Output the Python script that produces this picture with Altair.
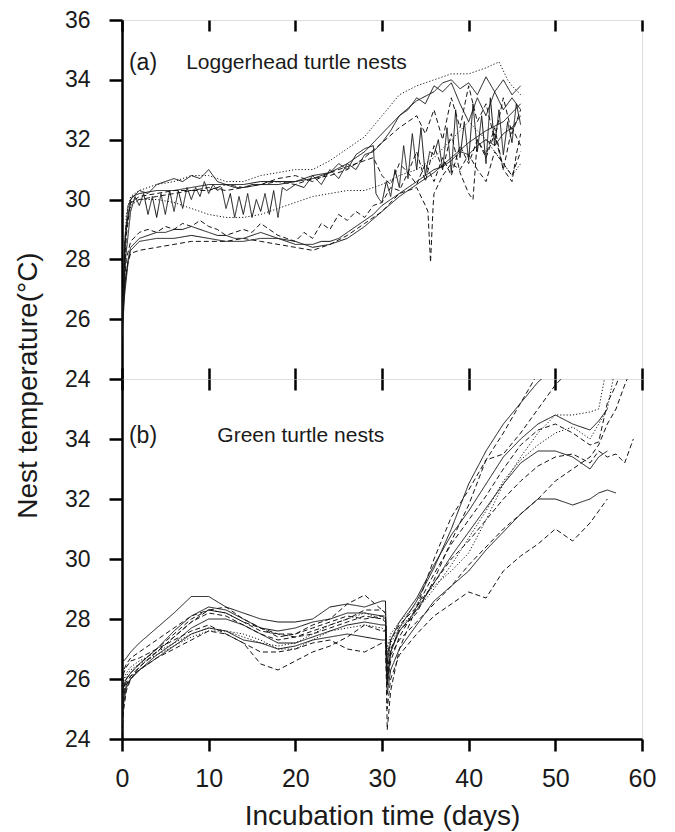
import altair as alt
import pandas as pd

FONT = "Liberation Sans"

# ---------------- Panel (a): loggerhead turtle nests (day, temperature) ----------------
A1 = [(0, 25.6), (0.3, 28.5), (0.7, 29.8), (1.2, 30.1), (2, 30.2), (4, 30.3), (6, 30.3), (8, 30.4),
      (10, 30.5), (12, 30.5), (14, 30.5), (16, 30.6), (18, 30.6), (20, 30.6), (22, 30.7), (24, 30.9),
      (26, 31.2), (28, 31.6), (30, 32.2), (32, 32.8), (34, 33.3), (36, 33.6), (37, 33.9), (38, 34.0),
      (39, 33.7), (40, 33.9), (41, 33.5), (42, 34.1), (43, 33.6), (44, 34.0), (45, 33.5), (46, 33.8)]
A2 = [(0, 26.0), (0.5, 29.5), (1, 30.1), (2, 30.3), (4, 30.5), (6, 30.6), (8, 30.8), (10, 30.8),
      (12, 30.6), (14, 30.6), (16, 30.8), (18, 30.9), (20, 31.0), (22, 31.0), (24, 31.3), (26, 31.7),
      (28, 32.1), (30, 32.8), (32, 33.5), (34, 33.8), (36, 34.0), (38, 34.2), (40, 34.2), (42, 34.4),
      (43.5, 34.6), (44.5, 34.0), (45, 33.8), (46, 33.5)]
A3 = [(0, 25.8), (0.4, 28.8), (1, 30.0), (2, 30.3), (3, 30.2), (4, 30.5), (5, 30.6), (6, 30.7),
      (7, 30.6), (8, 30.8), (9, 30.7), (10, 31.0), (11, 30.6), (12, 30.5), (13, 30.4), (14, 30.4),
      (15, 30.5), (16, 30.5), (18, 30.5), (20, 30.6), (22, 30.8), (24, 30.9), (25, 31.2), (26, 31.0),
      (27, 31.5), (28, 31.7), (29, 31.8), (29.3, 30.2), (29.7, 30.0), (30, 29.9), (30.5, 30.6),
      (31, 30.1), (31.5, 31.0), (32, 30.4), (32.5, 31.8), (33, 30.7), (33.5, 32.2), (34, 31.0),
      (34.5, 32.4), (35, 30.8), (35.5, 31.6), (36, 31.5), (36.5, 32.0), (37, 31.0), (37.5, 32.4),
      (38, 30.9), (38.5, 33.0), (39, 31.4), (39.5, 32.6), (40, 31.3), (40.5, 33.2), (41, 31.6),
      (41.5, 32.8), (42, 31.2), (42.5, 33.4), (43, 31.8), (43.5, 33.0), (44, 31.5), (44.5, 32.6),
      (45, 31.9), (45.5, 33.2), (46, 32.5)]
A4 = [(0, 25.5), (0.4, 28.0), (1, 29.6), (1.5, 30.1), (2, 29.8), (2.5, 30.2), (3, 29.5), (3.5, 30.1),
      (4, 29.4), (4.5, 30.2), (5, 29.5), (5.5, 30.3), (6, 29.6), (6.5, 30.3), (7, 29.7), (7.5, 30.4),
      (8, 30.0), (8.5, 30.4), (9, 30.1), (9.5, 30.6), (10, 30.2), (10.5, 30.5), (11, 30.3), (11.5, 30.4),
      (12, 29.7), (12.5, 30.2), (13, 29.4), (13.5, 30.1), (14, 29.5), (14.5, 30.2), (15, 29.4),
      (15.5, 30.0), (16, 29.6), (16.5, 30.2), (17, 29.5), (17.5, 30.3), (18, 29.4), (18.5, 30.4),
      (19, 30.3), (20, 30.5), (21, 30.4), (22, 30.8), (23, 30.5), (24, 31.0), (25, 30.7), (26, 31.2),
      (27, 31.0), (28, 31.5), (29, 31.6), (30, 31.9), (31, 32.3), (32, 32.8), (33, 33.0), (34, 33.4),
      (35, 33.2), (36, 33.8), (37, 33.6), (38, 33.9), (39, 33.2), (40, 32.6), (41, 33.4), (42, 32.8),
      (43, 33.6), (44, 33.0), (45, 33.4), (46, 33.0)]
A5 = [(0, 25.7), (0.3, 27.0), (0.7, 28.0), (1, 28.4), (2, 28.7), (3, 28.8), (4, 28.9), (5, 28.9),
      (6, 29.0), (7, 29.0), (8, 29.1), (9, 29.0), (10, 28.9), (11, 28.8), (12, 28.8), (13, 28.7),
      (14, 28.7), (15, 28.8), (16, 28.9), (17, 28.8), (18, 28.7), (19, 28.6), (20, 28.5), (21, 28.5),
      (22, 28.5), (23, 28.6), (24, 28.6), (25, 28.7), (26, 28.9), (27, 29.1), (28, 29.3), (29, 29.5),
      (30, 29.8), (31, 30.0), (32, 30.2), (33, 30.4), (34, 30.6), (35, 30.8), (36, 31.0), (37, 31.1),
      (38, 31.3), (39, 31.6), (40, 31.5), (41, 31.8), (42, 32.0), (43, 31.8), (44, 32.2), (45, 32.4),
      (46, 32.8)]
A6 = [(0, 25.9), (0.3, 27.2), (0.7, 27.9), (1, 28.2), (2, 28.3), (4, 28.4), (6, 28.5), (8, 28.6),
      (10, 28.6), (12, 28.6), (14, 28.7), (16, 28.6), (18, 28.5), (20, 28.4), (22, 28.3), (24, 28.5),
      (26, 28.8), (28, 29.2), (30, 29.6), (32, 30.2), (34, 30.4), (35, 29.8), (35.3, 29.6),
      (35.6, 27.9), (35.9, 29.8), (36, 30.2), (37, 30.8), (38, 31.2), (39, 31.0), (40, 31.5),
      (41, 31.0), (42, 30.6), (43, 31.6), (44, 31.2), (45, 30.8), (46, 31.6)]
A7 = [(0, 26.0), (0.5, 28.0), (1, 28.6), (2, 28.9), (3, 29.0), (4, 28.9), (5, 29.1), (6, 29.0),
      (7, 29.2), (8, 29.1), (9, 29.3), (10, 29.1), (11, 29.0), (12, 28.8), (13, 28.9), (14, 29.0),
      (15, 28.9), (16, 29.2), (17, 29.0), (18, 28.8), (19, 28.7), (20, 28.6), (21, 28.9), (22, 28.7),
      (23, 29.2), (24, 29.0), (25, 29.5), (26, 29.3), (27, 29.6), (28, 29.4), (29, 29.8), (30, 29.9),
      (31, 30.4), (32, 30.3), (33, 30.9), (34, 30.5), (35, 31.2), (36, 30.6), (37, 31.4), (38, 30.8),
      (39, 31.8), (40, 31.2), (41, 32.0), (42, 31.4), (43, 32.2), (44, 31.0), (45, 32.4), (46, 31.8)]
A8 = [(0, 26.2), (0.5, 29.0), (1, 29.8), (2, 30.0), (4, 30.0), (6, 29.9), (8, 29.7), (10, 29.5),
      (12, 29.4), (14, 29.4), (16, 29.5), (18, 29.7), (20, 29.9), (22, 30.1), (24, 30.2), (26, 30.3),
      (28, 30.3), (30, 30.5), (32, 30.8), (34, 31.0), (36, 31.4), (38, 32.0), (40, 32.6), (42, 32.0),
      (44, 31.2), (45, 30.8), (46, 31.2)]
A9 = [(0, 25.8), (0.4, 29.0), (1, 29.9), (2, 30.1), (4, 30.2), (6, 30.3), (8, 30.3), (10, 30.4),
      (12, 30.3), (14, 30.4), (16, 30.5), (18, 30.6), (20, 30.5), (22, 30.7), (24, 30.8), (26, 31.0),
      (28, 31.4), (30, 31.9), (32, 32.4), (34, 32.8), (35, 32.2), (36, 33.0), (37, 32.0), (38, 33.4),
      (39, 32.4), (40, 33.8), (41, 32.6), (42, 33.2), (43, 32.0), (44, 33.4), (45, 32.2), (46, 33.0)]
A10 = [(0, 25.6), (0.5, 28.8), (1, 29.9), (2, 30.0), (4, 30.1), (6, 30.2), (8, 30.3), (10, 30.3),
       (12, 30.5), (14, 30.4), (16, 30.5), (18, 30.7), (20, 30.8), (22, 30.6), (24, 30.9), (26, 31.1),
       (28, 31.3), (29, 31.4), (30, 30.8), (31, 30.5), (32, 31.2), (33, 30.9), (34, 31.6), (35, 30.6),
       (36, 31.8), (37, 31.0), (38, 32.2), (39, 30.9), (40, 30.2), (40.5, 30.0), (41, 32.0), (42, 31.5),
       (43, 32.4), (44, 31.0), (45, 30.6), (45.5, 31.5), (46, 32.2)]
A11 = [(0, 25.4), (0.3, 26.8), (0.7, 27.9), (1, 28.3), (2, 28.6), (4, 28.7), (6, 28.7), (8, 28.8),
       (10, 28.7), (12, 28.6), (14, 28.6), (16, 28.7), (18, 28.7), (20, 28.6), (22, 28.4), (24, 28.5),
       (26, 28.7), (28, 29.1), (30, 29.6), (32, 30.1), (34, 30.5), (36, 30.9), (38, 31.4), (40, 31.9),
       (42, 32.3), (44, 32.6), (46, 33.2)]

A_LINES = {"A1": A1, "A2": A2, "A3": A3, "A4": A4, "A5": A5, "A6": A6,
           "A7": A7, "A8": A8, "A9": A9, "A10": A10, "A11": A11}
A_STYLES = {"A1": "solid", "A2": "dotted", "A3": "solid", "A4": "solid", "A5": "solid",
            "A6": "dashed", "A7": "dashed", "A8": "dotted", "A9": "dashed", "A10": "dashed",
            "A11": "solid"}

# ---------------- Panel (b): green turtle nests (shared day grid) ----------------
B_DAYS = [0, 0.2, 0.5, 1, 2, 4, 6, 8, 10, 12,
          14, 16, 18, 20, 22, 24, 26, 28, 30, 30.4,
          30.6, 31, 32, 34, 36, 38, 40, 42, 44, 46,
          48, 50, 52, 54, 55, 56, 57, 58, 59]
N = None
G1 = [26.7, 26.6, 26.7, 26.9, 27.2, 27.7, 28.2, 28.75, 28.75, 28.4,
      28.2, 28.0, 27.9, 27.9, 28.0, 28.4, 28.5, 28.4, 28.6, 28.6,
      25.8, 26.9, 27.7, 28.6, 29.7, 31.0, 32.5, 33.6, 34.5, 35.2,
      35.9, 36.4, 37.0, N, N, N, N, N, N]
G2 = [24.2, 25.0, 25.6, 26.0, 26.4, 26.9, 27.4, 27.9, 28.3, 28.4,
      28.0, 27.7, 27.4, 27.5, 27.8, 28.0, 28.5, 28.8, 28.3, 28.2,
      24.3, 25.6, 27.0, 28.4, 30.0, 31.4, 32.3, 33.3, 34.2, 35.2,
      36.2, 37.0, N, N, N, N, N, N, N]
G3 = [25.2, 25.7, 26.0, 26.2, 26.5, 27.0, 27.5, 28.0, 28.3, 28.2,
      27.9, 27.6, 27.5, 27.5, 27.7, 27.9, 28.1, 28.0, 28.1, 28.1,
      26.2, 27.0, 27.6, 28.2, 29.3, 30.6, 31.8, 33.3, 33.5, 34.2,
      35.0, 35.8, 36.4, N, N, N, N, N, N]
G4 = [25.3, 25.8, 26.0, 26.2, 26.5, 27.0, 27.6, 28.1, 28.4, 28.3,
      28.0, 27.7, 27.6, 27.7, 27.9, 28.0, 28.2, 28.2, 28.1, 28.0,
      26.5, 27.3, 27.9, 28.7, 29.8, 30.8, 31.6, 32.5, 33.4, 34.0,
      34.5, 34.8, 34.5, 34.3, 34.6, 35.0, N, N, N]
G5 = [25.0, 25.5, 25.8, 26.1, 26.4, 26.9, 27.4, 27.9, 28.2, 28.1,
      27.8, 27.5, 27.3, 27.4, 27.6, 27.8, 28.0, 28.3, 28.3, 28.2,
      25.8, 26.6, 27.4, 28.4, 29.5, 30.5, 31.3, 32.1, 33.0, 33.8,
      34.3, 34.5, 34.2, 33.8, 33.9, 35.2, 35.8, 36.5, N]
G6 = [24.5, 25.2, 25.7, 26.0, 26.3, 26.8, 27.2, 27.7, 28.0, 28.0,
      27.8, 27.5, 27.2, 27.2, 27.4, 27.6, 27.8, 27.9, 27.8, 27.8,
      26.0, 26.9, 27.6, 28.3, 29.2, 30.1, 30.9, 31.7, 32.5, 33.2,
      33.6, 33.6, 33.4, 33.0, 33.4, 33.6, N, N, N]
G7 = [25.5, 26.0, 26.2, 26.4, 26.6, 26.9, 27.2, 27.5, 27.7, 27.6,
      27.4, 27.2, 27.1, 27.2, 27.5, 27.8, 28.0, 28.2, 28.0, 28.0,
      27.0, 27.5, 27.9, 28.5, 29.1, 29.6, 30.2, 31.3, 32.5, 33.4,
      34.2, 34.8, 34.8, 34.9, 35.0, 36.5, N, N, N]
G8 = [24.8, 25.4, 25.8, 26.0, 26.3, 26.7, 27.1, 27.5, 27.7, 27.6,
      27.3, 27.2, 27.0, 27.1, 27.3, 27.4, 27.5, 27.4, 27.3, 27.3,
      25.5, 26.3, 27.0, 27.8, 28.6, 29.1, 29.6, 30.3, 30.9, 31.5,
      32.0, 32.0, 31.8, 32.0, 32.2, 32.3, 32.2, N, N]
G9 = [25.0, 25.6, 25.9, 26.1, 26.3, 26.7, 27.0, 27.3, 27.6, 27.5,
      27.2, 26.9, 26.9, 27.0, 27.2, 27.3, 27.0, 26.9, 27.2, 27.2,
      25.0, 26.0, 26.8, 27.5, 28.1, 28.5, 28.9, 28.7, 29.6, 30.1,
      30.5, 31.0, 30.6, 31.2, 31.6, 32.0, N, N, N]
G10 = [25.6, 26.2, 26.4, 26.6, 26.7, 27.0, 27.3, 27.6, 27.8, 27.5,
       27.2, 26.5, 26.3, 26.6, 26.9, 27.1, 27.4, 27.8, 27.6, 27.6,
       26.3, 26.8, 27.3, 27.9, 28.5, 29.1, 29.8, 30.4, 31.0, 31.5,
       32.0, 32.6, 33.0, 33.4, 33.8, 34.5, 35.0, 35.8, 36.5]
G11 = [25.8, 26.3, 26.5, 26.7, 26.9, 27.3, 27.7, 28.1, 28.3, 28.2,
       27.9, 27.7, 27.5, 27.4, 27.5, 27.7, 27.9, 28.1, 28.0, 27.9,
       26.8, 27.3, 27.8, 28.4, 29.2, 30.0, 30.6, 31.3, 32.0, 32.6,
       33.1, 33.4, 33.5, 33.2, 33.6, 33.4, 33.5, 33.2, 34.0]
G12 = [25.2, 25.8, 26.1, 26.3, 26.5, 26.8, 27.1, 27.4, 27.6, 27.6,
       27.5, 27.3, 27.0, 27.0, 27.3, 27.6, 27.7, 27.8, 27.7, 27.6,
       26.6, 27.2, 27.7, 28.3, 29.0, 29.8, 30.7, 31.6, 32.6, 33.3,
       33.8, 34.2, 34.4, 34.0, 34.5, 35.0, 36.5, N, N]

B_LINES = {"G1": G1, "G2": G2, "G3": G3, "G4": G4, "G5": G5, "G6": G6,
           "G7": G7, "G8": G8, "G9": G9, "G10": G10, "G11": G11, "G12": G12}
B_STYLES = {"G1": "solid", "G2": "dashed", "G3": "dashed", "G4": "solid", "G5": "dashed",
            "G6": "solid", "G7": "dotted", "G8": "solid", "G9": "dashed", "G10": "dashed",
            "G11": "dashed", "G12": "dotted"}

X_TICKS = [0, 10, 20, 30, 40, 50, 60]
Y_TICKS_A = [24, 26, 28, 30, 32, 34, 36]
Y_TICKS_B = [24, 26, 28, 30, 32, 34]

# ---------------- build tables ----------------
rows_a = []
for name, pts in A_LINES.items():
    for d, t in pts:
        rows_a.append({"line": name, "style": A_STYLES[name], "day": d, "temp": t})
df_a = pd.DataFrame(rows_a)

rows_b = []
for name, vals in B_LINES.items():
    for d, t in zip(B_DAYS, vals):
        if t is not None:
            rows_b.append({"line": name, "style": B_STYLES[name], "day": d, "temp": t})
df_b = pd.DataFrame(rows_b)

ticks_df = pd.DataFrame({"day": X_TICKS})

W, HA, HB = 520, 359, 360
X_SCALE = alt.Scale(domain=[0, 60], nice=False, zero=False)
Y_SCALE = alt.Scale(domain=[24, 36], nice=False, zero=False)
DASH = alt.Scale(domain=["solid", "dashed", "dotted"], range=[[1, 0], [5, 3], [1.2, 2]])


def inner_ticks(orient):
    return alt.Chart(ticks_df).mark_point(opacity=0).encode(
        x=alt.X("day:Q", scale=X_SCALE,
                axis=alt.Axis(orient=orient, values=X_TICKS, labels=False, title=None,
                              domain=False, tickSize=11, offset=-11, tickWidth=2.5,
                              tickColor="black", grid=False)),
        y=alt.value(0),
    )


def annotation(tag, label, day, temp):
    tdf = pd.DataFrame({"day": [day[0]], "temp": [temp], "t": [tag]})
    ldf = pd.DataFrame({"day": [day[1]], "temp": [temp], "t": [label]})
    t1 = alt.Chart(tdf).mark_text(align="left", baseline="middle", font=FONT, fontSize=23,
                                  color="#1a1a1a").encode(
        x=alt.X("day:Q", scale=X_SCALE, axis=None), y=alt.Y("temp:Q", scale=Y_SCALE), text="t:N")
    t2 = alt.Chart(ldf).mark_text(align="left", baseline="middle", font=FONT, fontSize=21,
                                  color="#1a1a1a").encode(
        x=alt.X("day:Q", scale=X_SCALE, axis=None), y=alt.Y("temp:Q", scale=Y_SCALE), text="t:N")
    return t1, t2


yaxis_common = dict(tickSize=13, tickWidth=2.5, domainWidth=2.5, labelFontSize=23,
                    labelPadding=19, grid=False, domainColor="black", tickColor="black",
                    labelColor="#1a1a1a")

lines_a = alt.Chart(df_a).mark_line(strokeWidth=1.0, color="#151515", clip=True).encode(
    x=alt.X("day:Q", scale=X_SCALE,
            axis=alt.Axis(orient="bottom", values=X_TICKS, labels=False, title=None, domain=False,
                          tickSize=11, offset=-11, tickWidth=2.5, tickColor="black", grid=False)),
    y=alt.Y("temp:Q", scale=Y_SCALE,
            axis=alt.Axis(values=Y_TICKS_A, title="Nest temperature(°C)", titleFontSize=28,
                          titleFontWeight="normal", titleColor="#1a1a1a", titlePadding=22,
                          titleY=365, **yaxis_common)),
    strokeDash=alt.StrokeDash("style:N", scale=DASH, legend=None),
    detail="line:N",
)
ta1, ta2 = annotation("(a)", "Loggerhead turtle nests", (0.8, 7.4), 34.55)
panel_a = alt.layer(lines_a, inner_ticks("top"), ta1, ta2).resolve_axis(x="independent").properties(
    width=W, height=HA)

lines_b = alt.Chart(df_b).mark_line(strokeWidth=1.0, color="#151515", clip=True).encode(
    x=alt.X("day:Q", scale=X_SCALE,
            axis=alt.Axis(orient="bottom", values=X_TICKS, title="Incubation time (days)",
                          titleFontSize=28, titleFontWeight="normal", titleColor="#1a1a1a",
                          titlePadding=11, labelFontSize=25, labelPadding=15, tickSize=12,
                          tickWidth=2.5, domainWidth=2.5, domainColor="black", tickColor="black",
                          labelColor="#1a1a1a", grid=False, labelFlush=False)),
    y=alt.Y("temp:Q", scale=Y_SCALE,
            axis=alt.Axis(values=Y_TICKS_B, title=None, **yaxis_common)),
    strokeDash=alt.StrokeDash("style:N", scale=DASH, legend=None),
    detail="line:N",
)
tb1, tb2 = annotation("(b)", "Green turtle nests", (0.8, 11.0), 34.1)
panel_b = alt.layer(lines_b, inner_ticks("top"), tb1, tb2).resolve_axis(x="independent").properties(
    width=W, height=HB)

chart = alt.vconcat(panel_a, panel_b, spacing=0, bounds="flush").properties(
    padding={"left": 5, "top": 0, "right": 5, "bottom": 0}
).configure_view(stroke="#111111", strokeWidth=2).configure_axis(
    labelFont=FONT, titleFont=FONT
).configure(background="white")

chart.save("out.html", embed_options={"renderer": "svg", "actions": False})
